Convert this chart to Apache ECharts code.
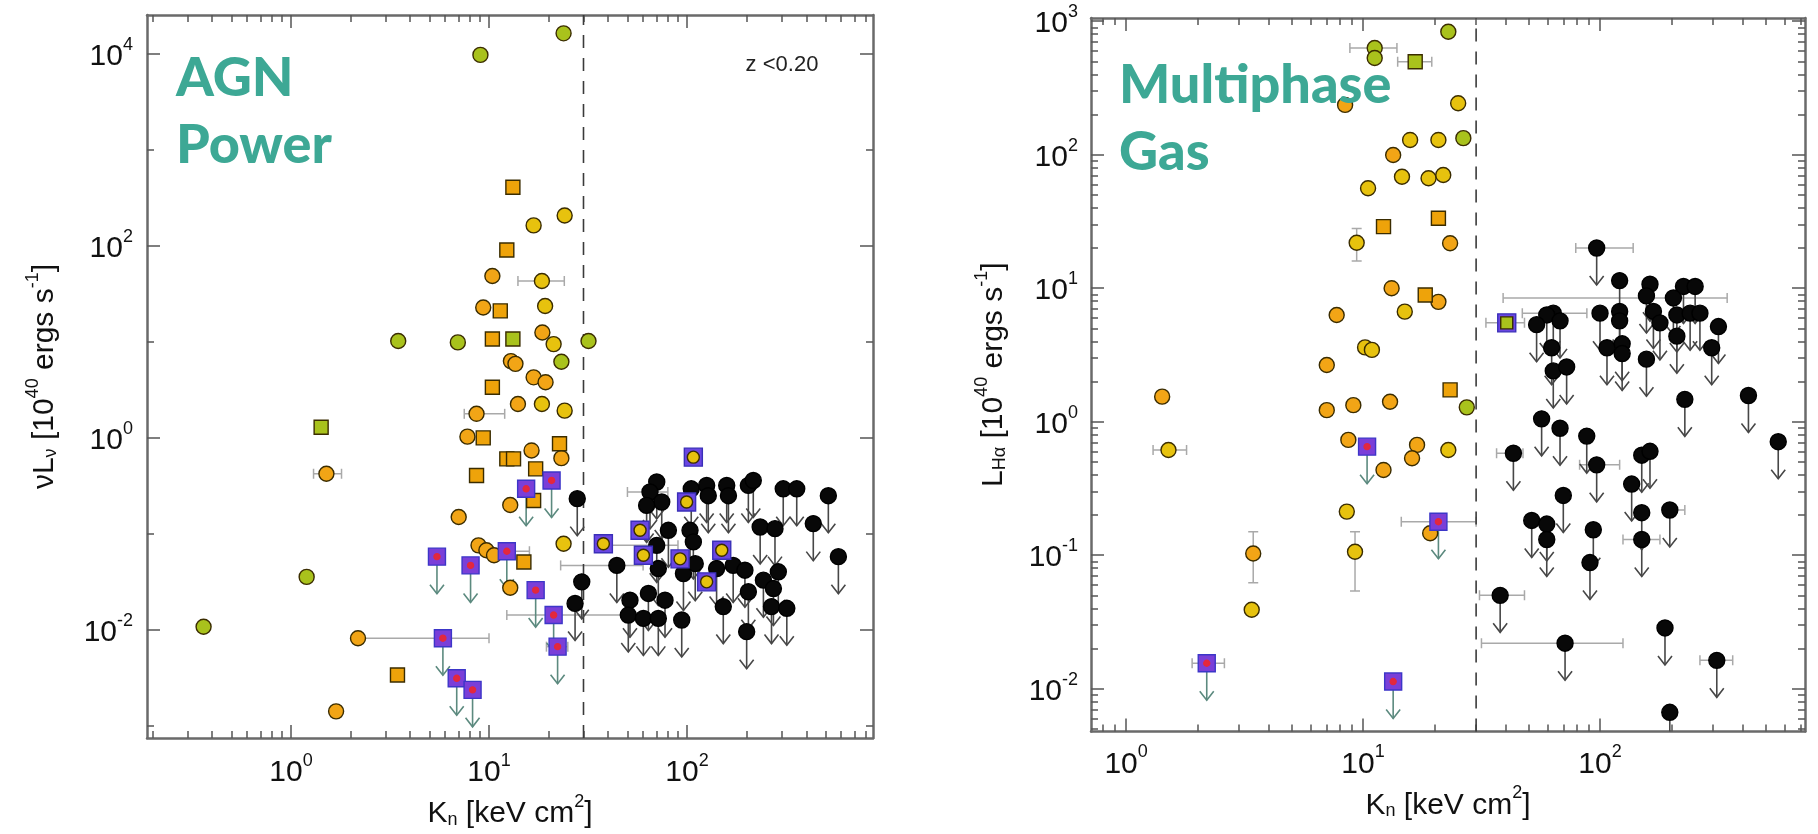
<!DOCTYPE html>
<html>
<head>
<meta charset="utf-8">
<script src="https://cdn.jsdelivr.net/npm/echarts@6/dist/echarts.min.js"></script>
<style>
  html, body { margin: 0; padding: 0; background: #fff; }
  #chart { width: 1818px; height: 834px; }
</style>
</head>
<body>
<div id="chart"></div>
<script>
// ---------- Left panel: AGN power  (nu L_nu, 10^40 erg/s)  vs  K_n (keV cm^2) ----------
const agnGreenCircles = [[9.05, 9720], [23.8, 16300], [3.48, 10.2], [6.96, 9.86], [31.8, 10.2], [23.2, 6.2], [1.2, 0.0357], [0.362, 0.0108]];
const agnYellowCircles = [[24.1, 207], [16.8, 163], [18.5, 43], [19.2, 23.6], [21.2, 9.47], [24.1, 1.92], [18.5, 2.25], [23.8, 0.079]];
const agnOrangeCircles = [[10.4, 48.5], [9.35, 22.8], [18.6, 12.5], [12.9, 6.3], [13.6, 5.9], [16.8, 4.27], [19.3, 3.79], [14.0, 2.25],
  [8.65, 1.78], [7.78, 1.03], [16.4, 0.74], [23.2, 0.615], [1.51, 0.423], [12.8, 0.2], [7.03, 0.15], [8.85, 0.076], [9.7, 0.0676],
  [10.6, 0.06], [12.8, 0.0275], [2.18, 0.0082], [1.69, 0.00142]];
const agnOrangeSquares = [[13.2, 407], [12.3, 90.3], [11.4, 21], [10.4, 10.7], [10.4, 3.36], [9.35, 1.0], [22.7, 0.87], [12.3, 0.605],
  [13.3, 0.605], [17.2, 0.476], [8.65, 0.406], [16.8, 0.223], [15.0, 0.051], [3.45, 0.0034]];
const agnGreenSquares = [[13.2, 10.7], [1.42, 1.29]];
const agnLimitSquares = [[15.4, 0.295], [20.7, 0.36], [12.3, 0.066], [5.46, 0.058], [8.07, 0.047], [17.2, 0.026], [21.2, 0.0143],
  [22.2, 0.0067], [5.85, 0.0082], [6.87, 0.00314], [8.26, 0.00238]];
const agnFramed = [[107.6, 0.63], [99.5, 0.215], [57.9, 0.109], [37.8, 0.079], [60.2, 0.06], [92.2, 0.055], [149.7, 0.0676], [125.6, 0.0317]];
const agnHotLimits = [[27.9, 0.233], [70.3, 0.347], [65, 0.273], [74.5, 0.215], [62.5, 0.198], [105, 0.295], [125.6, 0.32], [128, 0.25],
  [158.6, 0.32], [161.8, 0.25], [204, 0.32], [216, 0.36], [306, 0.295], [358, 0.295], [517, 0.25], [234, 0.118], [278, 0.1135],
  [434, 0.128], [581, 0.058], [80.5, 0.109], [103.5, 0.109], [107.6, 0.0826], [70.3, 0.076], [44.2, 0.047], [29.4, 0.0317],
  [27.2, 0.0189], [71.6, 0.0436], [95.9, 0.0387], [110, 0.049], [141, 0.0436], [171, 0.047], [196, 0.0419], [243, 0.033],
  [289, 0.0403], [273, 0.027], [204, 0.025], [51.5, 0.0204], [63.8, 0.024], [77.4, 0.0204], [50.5, 0.0143], [60.2, 0.0132],
  [71.6, 0.0132], [94, 0.0127], [152.4, 0.0175], [200, 0.0096], [267, 0.0175], [319, 0.0168]];
// [K, L, K_low, K_high]
const agnKErrors = [[5.85, 0.0082, 2.2, 10], [21.2, 0.0143, 12.3, 52], [44.2, 0.047, 23, 60], [65, 0.273, 50, 80], [70.3, 0.076, 35, 90],
  [1.51, 0.423, 1.3, 1.8], [18.5, 43, 14, 24], [12.3, 0.066, 10.5, 16], [8.65, 1.78, 7.5, 12], [22.2, 0.0067, 19.5, 25]];
const agnXTickExps = [0, 1, 2];
const agnYTickExps = [-2, 0, 2, 4];
const agnYMinorExps = [-3, -1, 1, 3];

// ---------- Right panel: multiphase gas  (L_Halpha, 10^40 erg/s)  vs  K_n ----------
const haGreenCircles = [[22.9, 834], [11.2, 630], [11.2, 530], [26.5, 133], [27.4, 1.28]];
const haYellowCircles = [[25.2, 243], [15.8, 129], [20.8, 129], [14.6, 68.4], [18.9, 66.6], [21.8, 70.5], [10.5, 56], [9.4, 21.9],
  [15.0, 6.67], [10.2, 3.6], [10.9, 3.45], [1.51, 0.614], [22.9, 0.614], [8.54, 0.212], [9.25, 0.106], [3.39, 0.039]];
const haOrangeCircles = [[8.4, 236], [13.4, 99.5], [23.3, 21.7], [13.2, 10], [20.8, 7.9], [7.74, 6.3], [7.03, 2.66], [1.42, 1.54],
  [7.03, 1.22], [9.1, 1.33], [13.0, 1.41], [8.67, 0.73], [12.2, 0.435], [16.9, 0.67], [16.1, 0.532], [19.2, 0.146], [3.44, 0.103]];
const haOrangeSquares = [[20.8, 33.4], [12.2, 28.9], [18.3, 8.9], [23.3, 1.73]];
const haGreenSquares = [[16.6, 497]];
const haLimitSquares = [[2.19, 0.0155], [13.4, 0.0113], [10.4, 0.65], [20.8, 0.178]];
const haFramed = [[40.4, 5.5]];
const haHotLimits = [[96.8, 20], [121, 11.4], [162.5, 10.7], [225, 10.3], [252, 10.3], [157, 8.75], [204, 8.45], [63.5, 6.5],
  [59.6, 6.3], [67.8, 5.69], [54, 5.33], [100, 6.5], [121, 6.7], [121, 5.69], [168, 6.7], [179, 5.5], [211, 6.3], [240, 6.5],
  [264, 6.5], [316, 5.16], [211, 4.37], [296, 3.58], [62.5, 3.58], [107, 3.58], [124, 3.83], [124, 3.24], [157, 2.94], [63.5, 2.4],
  [72.3, 2.57], [228, 1.47], [423, 1.57], [565, 0.708], [56.7, 1.05], [67.8, 0.893], [87.9, 0.78], [43.1, 0.58], [96.8, 0.475],
  [150, 0.561], [162.5, 0.6], [136, 0.341], [70, 0.28], [51.5, 0.182], [59.6, 0.171], [59.6, 0.131], [93.7, 0.155], [150, 0.208],
  [197, 0.218], [150, 0.131], [90.7, 0.088], [37.9, 0.05], [71.2, 0.0219], [188, 0.0285], [311, 0.0163], [197, 0.00665]];
const haKErrors = [[96.8, 20, 79, 138], [204, 8.45, 39, 344], [63.5, 6.5, 47, 88], [71.2, 0.0219, 31.6, 125], [311, 0.0163, 264, 363],
  [43.1, 0.58, 36.6, 47.3], [37.9, 0.05, 31, 48], [197, 0.218, 185, 228], [150, 0.131, 125, 179], [96.8, 0.475, 82, 121],
  [11.2, 630, 8.8, 13.9], [16.6, 497, 14, 19.5], [20.8, 0.178, 14.5, 30], [40.4, 5.5, 33, 48], [1.51, 0.614, 1.3, 1.8], [2.19, 0.0155, 1.9, 2.6]];
// [K, L, L_low, L_high]
const haLErrors = [[9.25, 0.106, 0.054, 0.15], [3.44, 0.103, 0.062, 0.15], [9.4, 21.9, 16, 28]];
const haXTickExps = [0, 1, 2];
const haYTickExps = [-2, -1, 0, 1, 2, 3];

// Entropy threshold marked in both panels
const entropyThreshold = 30;

// ---------- helpers ----------
const LOG = Math.log10;
const toLog = arr => arr.map(d => [LOG(d[0]), LOG(d[1])]);
const toLog4 = arr => arr.map(d => d.map(LOG));

function logSubTicks(lo, hi) {
  const out = [];
  for (let d = Math.floor(lo) - 1; d <= Math.ceil(hi); d++) {
    for (let k = 2; k <= 9; k++) {
      const v = d + LOG(k);
      if (v > lo && v < hi) out.push(v);
    }
  }
  return out;
}

const FONT = '"Liberation Sans", Arial, sans-serif';
const INK = '#111';
const AXIS_COLOR = '#6a6a6a';
const TICK_COLOR = '#555';

const TICK_RICH = {
  b: { fontSize: 30, lineHeight: 36, verticalAlign: 'bottom', fontFamily: FONT, color: INK },
  s: { fontSize: 18, lineHeight: 18, verticalAlign: 'top', fontFamily: FONT, color: INK }
};
const NAME_RICH = {
  i: { fontSize: 30, lineHeight: 36, verticalAlign: 'bottom', fontFamily: FONT, color: INK },
  sup: { fontSize: 18, lineHeight: 18, verticalAlign: 'top', fontFamily: FONT, color: INK },
  sub: { fontSize: 18, lineHeight: 18, verticalAlign: 'bottom', fontFamily: FONT, color: INK }
};

// Four axes per dimension: labelled major, minor, mirrored major, mirrored minor
function makeAxes(dim, gi, lo, hi, majors, minors, name, nameGap, labelMargin) {
  const posA = dim === 'x' ? 'bottom' : 'left';
  const posB = dim === 'x' ? 'top' : 'right';
  const base = { type: 'value', gridIndex: gi, min: lo, max: hi, splitLine: { show: false }, scale: false };
  const line = { show: true, onZero: false, lineStyle: { color: AXIS_COLOR, width: 2.5 } };
  const noLine = { show: false, onZero: false };
  const tick = (vals, len) => ({ show: true, inside: true, length: len, customValues: vals, lineStyle: { color: TICK_COLOR, width: 1.5 } });
  return [
    Object.assign({}, base, {
      position: posA, axisLine: line, axisTick: tick(majors, 13),
      axisLabel: { show: true, customValues: majors, margin: labelMargin, rich: TICK_RICH,
        formatter: v => '{b|10}{s|' + Math.round(v) + '}' },
      name: name, nameLocation: 'middle', nameGap: nameGap, nameRotate: dim === 'y' ? 90 : 0,
      nameTextStyle: { fontFamily: FONT, fontSize: 30, color: INK, rich: NAME_RICH }
    }),
    Object.assign({}, base, { position: posA, axisLine: noLine, axisTick: tick(minors, 7), axisLabel: { show: false } }),
    Object.assign({}, base, { position: posB, axisLine: line, axisTick: tick(majors, 13), axisLabel: { show: false } }),
    Object.assign({}, base, { position: posB, axisLine: noLine, axisTick: tick(minors, 7), axisLabel: { show: false } })
  ];
}

// Axis extents (log10 of data units)
const agnX = [-0.727, 2.939], agnY = [-3.126, 4.403];
const haX = [-0.148, 2.865], haY = [-2.321, 3.024];

const xAxes = [].concat(
  makeAxes('x', 0, agnX[0], agnX[1], agnXTickExps, logSubTicks(agnX[0], agnX[1]), '{i|K}{sub|n}{i| [keV cm}{sup|2}{i|]}', 48, 14),
  makeAxes('x', 1, haX[0], haX[1], haXTickExps, logSubTicks(haX[0], haX[1]), '{i|K}{sub|n}{i| [keV cm}{sup|2}{i|]}', 47, 12)
);
const yAxes = [].concat(
  makeAxes('y', 0, agnY[0], agnY[1], agnYTickExps, agnYMinorExps, '{i|νL}{sub|ν}{i| [10}{sup|40}{i| ergs s}{sup|-1}{i|]}', 87, 14),
  makeAxes('y', 1, haY[0], haY[1], haYTickExps, logSubTicks(haY[0], haY[1]), '{i|L}{sub|Hα}{i| [10}{sup|40}{i| ergs s}{sup|-1}{i|]}', 82, 13)
);

// ---------- series builders ----------
const MARK_EDGE = '#3a2c00';
function scatter(p, data, symbol, size, color, z, border) {
  return {
    type: 'scatter', xAxisIndex: p * 4, yAxisIndex: p * 4, data: toLog(data), symbol: symbol, symbolSize: size, z: z,
    itemStyle: { color: color, borderColor: border || MARK_EDGE, borderWidth: 1.4, opacity: 1 }, silent: true
  };
}

function arrows(p, data, color) {
  return {
    type: 'custom', xAxisIndex: p * 4, yAxisIndex: p * 4, data: toLog(data), z: 2, clip: true, silent: true,
    renderItem: (params, api) => {
      const c = api.coord([api.value(0), api.value(1)]);
      const len = 37;
      const style = { stroke: color, lineWidth: 1.6, fill: null };
      return { type: 'group', children: [
        { type: 'line', shape: { x1: c[0], y1: c[1], x2: c[0], y2: c[1] + len }, style: style },
        { type: 'polyline', shape: { points: [[c[0] - 7, c[1] + len - 9], [c[0], c[1] + len], [c[0] + 7, c[1] + len - 9]] }, style: style }
      ] };
    }
  };
}

function kErrorBars(p, data) {
  return {
    type: 'custom', xAxisIndex: p * 4, yAxisIndex: p * 4, data: toLog4(data), z: 1, clip: true, silent: true,
    renderItem: (params, api) => {
      const a = api.coord([api.value(2), api.value(1)]);
      const b = api.coord([api.value(3), api.value(1)]);
      const style = { stroke: '#a9a9a9', lineWidth: 1.5 };
      return { type: 'group', children: [
        { type: 'line', shape: { x1: a[0], y1: a[1], x2: b[0], y2: b[1] }, style: style },
        { type: 'line', shape: { x1: a[0], y1: a[1] - 5, x2: a[0], y2: a[1] + 5 }, style: style },
        { type: 'line', shape: { x1: b[0], y1: b[1] - 5, x2: b[0], y2: b[1] + 5 }, style: style }
      ] };
    }
  };
}

function lErrorBars(p, data) {
  return {
    type: 'custom', xAxisIndex: p * 4, yAxisIndex: p * 4, data: toLog4(data), z: 1, clip: true, silent: true,
    renderItem: (params, api) => {
      const a = api.coord([api.value(0), api.value(2)]);
      const b = api.coord([api.value(0), api.value(3)]);
      const style = { stroke: '#a9a9a9', lineWidth: 1.5 };
      return { type: 'group', children: [
        { type: 'line', shape: { x1: a[0], y1: a[1], x2: b[0], y2: b[1] }, style: style },
        { type: 'line', shape: { x1: a[0] - 5, y1: a[1], x2: a[0] + 5, y2: a[1] }, style: style },
        { type: 'line', shape: { x1: b[0] - 5, y1: b[1], x2: b[0] + 5, y2: b[1] }, style: style }
      ] };
    }
  };
}

function thresholdLine(p, yr) {
  return {
    type: 'line', xAxisIndex: p * 4, yAxisIndex: p * 4, z: 1, silent: true, symbol: 'none',
    data: [[LOG(entropyThreshold), yr[0]], [LOG(entropyThreshold), yr[1]]],
    lineStyle: { color: '#3a3a3a', width: 1.6, type: [13, 10] }
  };
}

const GREEN = '#a9c21c', YELLOW = '#e7c20e', ORANGE = '#f2a516', SQ_ORANGE = '#eea30a';
const PURPLE = '#7a3fd8', PURPLE_EDGE = '#3c36c8', RED = '#e3283e', HOT = '#080808';

function panelSeries(p, d, yr) {
  return [
    kErrorBars(p, d.kErr),
    lErrorBars(p, d.lErr || []),
    thresholdLine(p, yr),
    arrows(p, d.hot, '#474747'),
    arrows(p, d.lim, '#5c8a7f'),
    scatter(p, d.hot, 'circle', 16, HOT, 4, '#000'),
    scatter(p, d.green, 'circle', 15, GREEN, 5),
    scatter(p, d.yellow, 'circle', 15, YELLOW, 5),
    scatter(p, d.orange, 'circle', 15, ORANGE, 5),
    scatter(p, d.sqOrange, 'rect', 14, SQ_ORANGE, 5),
    scatter(p, d.sqGreen, 'rect', 14, GREEN, 5),
    scatter(p, d.lim, 'rect', 17, PURPLE, 6, PURPLE_EDGE),
    scatter(p, d.lim, 'circle', 6, RED, 7, RED),
    scatter(p, d.framed, 'rect', 18, '#6a46e2', 6, '#3a2fb8'),
    scatter(p, d.framed, d.framedInner, 12, d.framedColor, 7)
  ];
}

const series = [].concat(
  panelSeries(0, {
    kErr: agnKErrors, hot: agnHotLimits, lim: agnLimitSquares, green: agnGreenCircles, yellow: agnYellowCircles,
    orange: agnOrangeCircles, sqOrange: agnOrangeSquares, sqGreen: agnGreenSquares, framed: agnFramed,
    framedInner: 'circle', framedColor: YELLOW
  }, agnY),
  panelSeries(1, {
    kErr: haKErrors, lErr: haLErrors, hot: haHotLimits, lim: haLimitSquares, green: haGreenCircles, yellow: haYellowCircles,
    orange: haOrangeCircles, sqOrange: haOrangeSquares, sqGreen: haGreenSquares, framed: haFramed,
    framedInner: 'rect', framedColor: GREEN
  }, haY)
);

const chart = echarts.init(document.getElementById('chart'), null, { renderer: 'canvas' });
chart.setOption({
  backgroundColor: '#ffffff',
  animation: false,
  textStyle: { fontFamily: FONT },
  grid: [
    { left: 147, top: 15, width: 726, height: 725 },
    { left: 1091, top: 18, width: 714, height: 713.5 }
  ],
  xAxis: xAxes,
  yAxis: yAxes,
  series: series,
  graphic: [
    { type: 'text', left: 176, top: 45, z: 20, silent: true,
      style: { text: 'AGN\nPower', fontFamily: 'Lato, "Open Sans", sans-serif', fontWeight: 900, fontSize: 54, lineHeight: 67, fill: '#3da895' } },
    { type: 'text', left: 1119, top: 52, z: 20, silent: true,
      style: { text: 'Multiphase\nGas', fontFamily: 'Lato, "Open Sans", sans-serif', fontWeight: 900, fontSize: 54, lineHeight: 67, fill: '#3da895' } },
    { type: 'text', x: 782, y: 65, z: 20, silent: true,
      style: { text: 'z <0.20', fontFamily: FONT, fontSize: 22, fill: '#222', align: 'center', verticalAlign: 'middle' } }
  ]
});
</script>
</body>
</html>
